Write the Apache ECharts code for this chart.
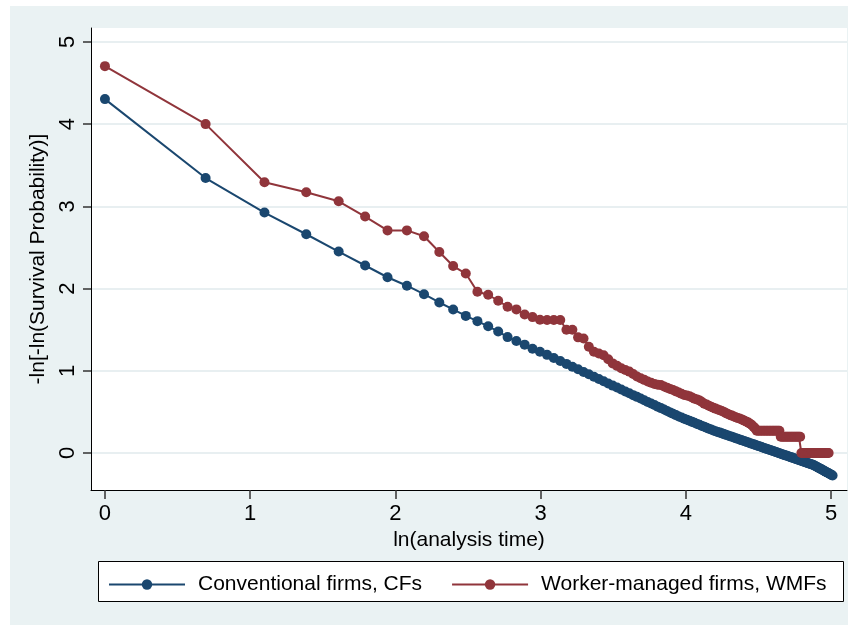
<!DOCTYPE html>
<html>
<head>
<meta charset="utf-8">
<script src="https://cdn.jsdelivr.net/npm/echarts@6/dist/echarts.min.js"></script>
<style>
  html, body { margin: 0; padding: 0; background: #ffffff; }
  #chart { width: 855px; height: 625px; }
</style>
</head>
<body>
<div id="chart"></div>
<script>
// Analysis times at which each group's curve is evaluated
const cfTimes = [1,2,3,4,5,6,7,8,9,10,11,12,13,14,15,16,17,18,19,20,
  21,22,23,24,25,26,27,28,29,30,31,32,33,34,35,36,37,38,39,40,
  41,42,43,44,45,46,47,48,49,50,51,52,53,54,55,56,57,58,59,60,
  61,62,63,64,65,66,67,68,69,70,71,72,73,74,75,76,77,78,79,80,
  81,82,83,84,85,86,87,88,89,90,91,92,93,94,95,96,97,98,99,100,
  101,102,103,104,105,106,107,108,109,110,111,112,113,114,115,116,117,118,119,120,
  121,122,123,124,125,126,127,128,129,130,131,132,133,134,135,136,137,138,139,140,
  141,142,143,144,145,146,147,148,149,150];

// -ln[-ln(S(t))] for conventional firms
const cfValues = [4.305,3.345,2.925,2.661,2.451,2.281,2.138,2.035,1.932,1.831,
  1.746,1.668,1.604,1.541,1.479,1.410,1.363,1.318,1.268,1.231,
  1.194,1.156,1.119,1.084,1.050,1.018,0.986,0.957,0.928,0.900,
  0.872,0.846,0.820,0.797,0.773,0.749,0.726,0.704,0.683,0.662,
  0.641,0.621,0.602,0.583,0.564,0.546,0.529,0.512,0.494,0.478,
  0.461,0.445,0.431,0.417,0.405,0.392,0.379,0.367,0.354,0.343,
  0.330,0.319,0.308,0.296,0.286,0.274,0.265,0.256,0.248,0.239,
  0.230,0.221,0.213,0.205,0.197,0.188,0.180,0.173,0.165,0.157,
  0.150,0.142,0.135,0.127,0.120,0.113,0.106,0.099,0.092,0.085,
  0.079,0.072,0.065,0.059,0.052,0.046,0.040,0.033,0.027,0.021,
  0.015,0.009,0.003,-0.003,-0.009,-0.014,-0.020,-0.026,-0.031,-0.037,
  -0.043,-0.048,-0.053,-0.059,-0.064,-0.070,-0.075,-0.080,-0.085,-0.090,
  -0.095,-0.100,-0.105,-0.110,-0.115,-0.120,-0.125,-0.130,-0.134,-0.139,
  -0.143,-0.150,-0.157,-0.164,-0.171,-0.179,-0.185,-0.192,-0.199,-0.207,
  -0.213,-0.220,-0.227,-0.234,-0.240,-0.247,-0.253,-0.260,-0.267,-0.274];

const wmfTimes = [1,2,3,4,5,6,7,8,9,10,11,12,13,14,15,16,17,18,19,20,
  21,22,23,24,25,26,27,28,29,30,31,32,33,34,35,36,37,38,39,40,
  41,42,43,44,45,46,47,48,49,50,51,52,53,54,55,56,57,58,59,60,
  61,62,63,64,65,66,67,68,69,70,71,72,73,74,75,76,77,78,79,80,
  81,82,83,84,85,86,87,88,89,90,91,92,93,94,95,96,97,98,99,100,
  101,102,103,104,105,106,107,108,109,110,111,112,113,114,115,116,117,118,119,120,
  121,122,123,124,125,126,127,128,129,130,131,132,133,134,135,136,137,138,139,140,
  141,142,143,144,145,146];

// -ln[-ln(S(t))] for worker-managed firms
const wmfValues = [4.706,4.001,3.293,3.171,3.062,2.876,2.708,2.708,2.637,2.446,
  2.274,2.183,1.961,1.925,1.852,1.779,1.747,1.684,1.653,1.620,
  1.617,1.617,1.617,1.500,1.500,1.407,1.394,1.292,1.231,1.210,
  1.190,1.140,1.090,1.060,1.030,1.010,0.990,0.960,0.930,0.910,
  0.890,0.870,0.855,0.840,0.830,0.826,0.810,0.795,0.780,0.766,
  0.750,0.735,0.720,0.705,0.700,0.690,0.675,0.660,0.652,0.640,
  0.620,0.600,0.590,0.575,0.563,0.550,0.540,0.530,0.520,0.510,
  0.500,0.485,0.475,0.462,0.455,0.445,0.435,0.425,0.420,0.410,
  0.400,0.390,0.381,0.370,0.355,0.340,0.320,0.300,0.270,0.270,
  0.270,0.270,0.270,0.270,0.270,0.270,0.270,0.270,0.270,0.270,
  0.270,0.270,0.270,0.270,0.198,0.198,0.198,0.198,0.198,0.198,
  0.198,0.198,0.198,0.198,0.198,0.198,0.198,0.198,0.198,0.198,
  0.000,0.000,0.000,0.000,0.000,0.000,0.000,0.000,0.000,0.000,
  0.000,0.000,0.000,0.000,0.000,0.000,0.000,0.000,0.000,0.000,
  0.000,0.000,0.000,0.000,0.000,0.000];

const xTicks = [0, 1, 2, 3, 4, 5];
const yTicks = [0, 1, 2, 3, 4, 5];
const seriesNames = ['Conventional firms, CFs', 'Worker-managed firms, WMFs'];
const xTitle = 'ln(analysis time)';
const yTitle = '-ln[-ln(Survival Probability)]';

const NAVY = '#1a476f';
const MAROON = '#90353b';
const FONT = "'Liberation Sans', Arial, sans-serif";

function toPairs(times, values) {
  return times.map((t, i) => [Math.log(t), values[i]]);
}

const chart = echarts.init(document.getElementById('chart'), null, { renderer: 'canvas' });

const option = {
  animation: false,
  backgroundColor: '#ffffff',
  graphic: [
    // outer graph region
    { type: 'rect', z: -20, silent: true,
      shape: { x: 10, y: 6, width: 838, height: 619 },
      style: { fill: '#eaf2f3' } },
    // plot region
    { type: 'rect', z: -10, silent: true,
      shape: { x: 91, y: 28, width: 756, height: 462 },
      style: { fill: '#ffffff' } },
    // legend frame
    { type: 'rect', z: -10, silent: true,
      shape: { x: 98.5, y: 561.5, width: 745, height: 40 },
      style: { fill: '#ffffff', stroke: '#000000', lineWidth: 1 } }
  ],
  grid: { left: 91, right: 8, top: 28, bottom: 135, containLabel: false },
  xAxis: {
    type: 'value',
    min: -0.096, max: 5.11,
    name: xTitle,
    nameLocation: 'middle',
    nameGap: 32,
    nameTextStyle: { fontFamily: FONT, fontSize: 21, color: '#000' },
    axisLine: { show: true, onZero: false, lineStyle: { color: '#000', width: 1 } },
    axisTick: { show: true, length: 9, customValues: xTicks, lineStyle: { color: '#333', width: 1.5 } },
    axisLabel: { customValues: xTicks, fontFamily: FONT, fontSize: 22, color: '#000', margin: 13 },
    splitLine: { show: false }
  },
  yAxis: {
    type: 'value',
    min: -0.45, max: 5.17,
    name: yTitle,
    nameLocation: 'middle',
    nameGap: 34,
    nameRotate: 90,
    nameTextStyle: { fontFamily: FONT, fontSize: 21, color: '#000' },
    axisLine: { show: true, onZero: false, lineStyle: { color: '#000', width: 1 } },
    axisTick: { show: true, length: 8, customValues: yTicks, lineStyle: { color: '#333', width: 1.5 } },
    axisLabel: { customValues: yTicks, rotate: 90, fontFamily: FONT, fontSize: 22, color: '#000', margin: 12 },
    splitLine: { show: true, lineStyle: { color: '#e8eff1', width: 2 } }
  },
  legend: {
    left: 103, top: 569,
    itemWidth: 76, itemHeight: 13, itemGap: 29,
    textStyle: { fontFamily: FONT, fontSize: 21, color: '#000', padding: [0, 0, 0, 8] },
    data: seriesNames
  },
  series: [
    {
      name: seriesNames[0], type: 'line',
      data: toPairs(cfTimes, cfValues),
      symbol: 'circle', symbolSize: 10, showSymbol: true,
      itemStyle: { color: NAVY }, lineStyle: { color: NAVY, width: 2 }
    },
    {
      name: seriesNames[1], type: 'line',
      data: toPairs(wmfTimes, wmfValues),
      symbol: 'circle', symbolSize: 10, showSymbol: true,
      itemStyle: { color: MAROON }, lineStyle: { color: MAROON, width: 2 }
    }
  ]
};

chart.setOption(option);
</script>
</body>
</html>
